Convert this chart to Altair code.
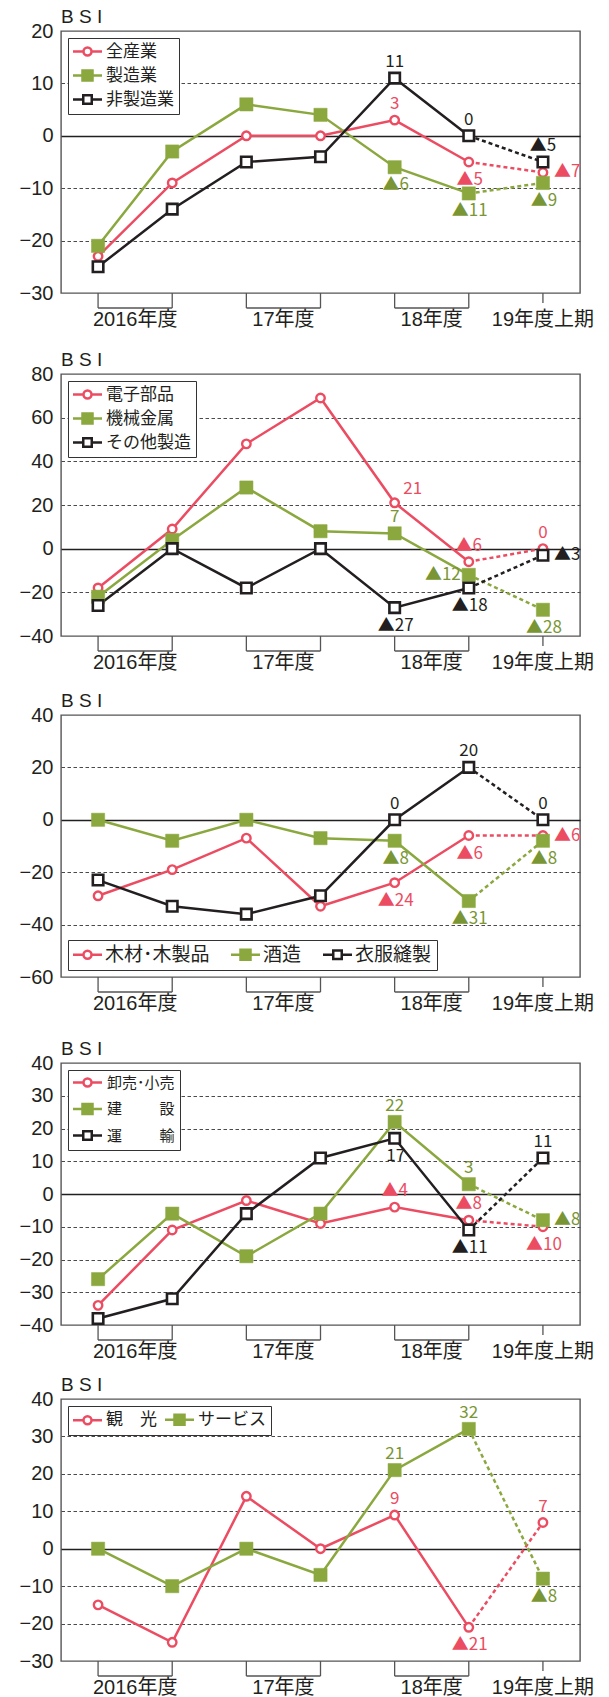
import altair as alt
import pandas as pd

FONT = "'Liberation Sans', 'Noto Sans CJK JP', sans-serif"
ANN_FONT = "'Noto Sans CJK JP', 'Liberation Sans', sans-serif"
PINK = "#ec4c62"
GREEN = "#8ba83f"
GREEN_TXT = "#7a9634"
BLACK = "#231f20"
FRAME = "#555555"

# half-year periods: 0=2016H1 ... 6=2019H1
FY_LABELS = ["2016年度", "17年度", "18年度", "19年度上期"]
FY_FIRST = [0, 2, 4, 6]
FY_LAST = [1, 3, 5, 6]

# ---- Panel 1
P1_NAMES = ["全産業", "製造業", "非製造業"]
P1_A = [-23, -9, 0, 0, 3, -5, -7]
P1_B = [-21, -3, 6, 4, -6, -11, -9]
P1_C = [-25, -14, -5, -4, 11, 0, -5]
P1_LAB_SERIES = [2, 0, 1, 2, 0, 1, 2, 0, 1]
P1_LAB_PERIOD = [4, 4, 4, 5, 5, 5, 6, 6, 6]
P1_LAB_TEXT = ["11", "3", "▲6", "0", "▲5", "▲11", "▲5", "▲7", "▲9"]
P1_LAB_SIDE = ["above", "above", "below", "above", "below", "below", "above", "right", "below"]

# ---- Panel 2
P2_NAMES = ["電子部品", "機械金属", "その他製造"]
P2_A = [-18, 9, 48, 69, 21, -6, 0]
P2_B = [-22, 4, 28, 8, 7, -12, -28]
P2_C = [-26, 0, -18, 0, -27, -18, -3]
P2_LAB_SERIES = [0, 1, 2, 0, 1, 2, 0, 2, 1]
P2_LAB_PERIOD = [4, 4, 4, 5, 5, 5, 6, 6, 6]
P2_LAB_TEXT = ["21", "7", "▲27", "▲6", "▲12", "▲18", "0", "▲3", "▲28"]
P2_LAB_SIDE = ["aboveright", "above", "below", "above", "left", "below", "above", "right", "below"]

# ---- Panel 3
P3_NAMES = ["木材･木製品", "酒造", "衣服縫製"]
P3_A = [-29, -19, -7, -33, -24, -6, -6]
P3_B = [0, -8, 0, -7, -8, -31, -8]
P3_C = [-23, -33, -36, -29, 0, 20, 0]
P3_LAB_SERIES = [2, 1, 0, 2, 0, 1, 2, 0, 1]
P3_LAB_PERIOD = [4, 4, 4, 5, 5, 5, 6, 6, 6]
P3_LAB_TEXT = ["0", "▲8", "▲24", "20", "▲6", "▲31", "0", "▲6", "▲8"]
P3_LAB_SIDE = ["above", "below", "below", "above", "below", "below", "above", "right", "below"]

# ---- Panel 4
P4_NAMES = ["卸売･小売", "建\u3000\u3000\u2002設", "運\u3000\u3000\u2002輸"]
P4_A = [-34, -11, -2, -9, -4, -8, -10]
P4_B = [-26, -6, -19, -6, 22, 3, -8]
P4_C = [-38, -32, -6, 11, 17, -11, 11]
P4_LAB_SERIES = [1, 2, 0, 1, 0, 2, 2, 1, 0]
P4_LAB_PERIOD = [4, 4, 4, 5, 5, 5, 6, 6, 6]
P4_LAB_TEXT = ["22", "17", "▲4", "3", "▲8", "▲11", "11", "▲8", "▲10"]
P4_LAB_SIDE = ["above", "below", "above", "above", "above", "below", "above", "right", "below"]

# ---- Panel 5
P5_NAMES = ["観\u3000光", "サービス"]
P5_A = [-15, -25, 14, 0, 9, -21, 7]
P5_B = [0, -10, 0, -7, 21, 32, -8]
P5_LAB_SERIES = [1, 0, 1, 0, 0, 1]
P5_LAB_PERIOD = [4, 4, 5, 5, 6, 6]
P5_LAB_TEXT = ["21", "9", "32", "▲21", "7", "▲8"]
P5_LAB_SIDE = ["above", "above", "above", "below", "above", "below"]

W, H = 519, 262

LINE_COLORS = [PINK, GREEN, BLACK]
TEXT_COLORS = [PINK, GREEN_TXT, BLACK]
POINT_STYLES = [
    dict(shape="circle", size=72, fill="white", stroke=PINK, strokeWidth=2.4),
    dict(shape="square", size=175, fill=GREEN, stroke=GREEN, strokeWidth=0.5, filled=True),
    dict(shape="square", size=110, fill="white", stroke=BLACK, strokeWidth=2.6),
]
LEG_PATHS = [
    "M-2.9,0H-0.8M0.8,0H2.9M0.8,0A0.8,0.8,0,1,1,-0.8,0A0.8,0.8,0,1,1,0.8,0Z",
    "M-2.9,0H-1M1,0H2.9M-1,-1H1V1H-1Z",
    "M-2.9,0H-0.85M0.85,0H2.9M-0.85,-0.85H0.85V0.85H-0.85Z",
]
LEG_FILLS = ["white", GREEN, "white"]
LEG_STROKES = [PINK, GREEN, BLACK]

PLACE = {
    "above": dict(dx=0, dy=-16, align="center"),
    "below": dict(dx=1, dy=18, align="center"),
    "right": dict(dx=11, dy=0, align="left"),
    "left": dict(dx=-8, dy=0, align="right"),
    "aboveright": dict(dx=18, dy=-14, align="center"),
}

xscale = alt.Scale(domain=[-0.5, 6.5], nice=False, zero=False)
INDEP = dict(color="independent", fill="independent", stroke="independent", shape="independent")


def panel(names, series, ylo, yhi, ystep, lab_s, lab_p, lab_t, lab_side,
          leg_orient, leg_dir, leg_size, leg_colpad, leg_rowpad):
    n = len(names)
    rows = []
    for name, vals in zip(names, series):
        for i, v in enumerate(vals):
            rows.append({"series": name, "idx": i, "value": v})
    df = pd.DataFrame(rows)

    ann = pd.DataFrame({
        "series": [names[s] for s in lab_s],
        "idx": lab_p,
        "value": [series[s][p] for s, p in zip(lab_s, lab_p)],
        "label": lab_t,
        "side": lab_side,
    })

    ticks = list(range(ylo, yhi + 1, ystep))
    yaxis = alt.Axis(
        values=ticks, title=None, grid=True, ticks=False, domain=False,
        labelFont=FONT, labelFontSize=20, labelColor=BLACK, labelPadding=8,
        labelFlush=False, labelOverlap=False, minExtent=48, maxExtent=48,
        labelExpr="(datum.value < 0 ? '−' : '') + abs(datum.value)",
        gridColor={"condition": {"test": "datum.value === 0", "value": BLACK}, "value": "#4a4a4a"},
        gridDash={"condition": {"test": "datum.value === 0", "value": []}, "value": [3.5, 2.5]},
        gridWidth={"condition": {"test": "datum.value === 0", "value": 1.4}, "value": 1.1},
        gridOpacity={"condition": {"test": f"datum.value === {ylo} || datum.value === {yhi}", "value": 0}, "value": 1},
    )
    yscale = alt.Scale(domain=[ylo, yhi], nice=False, zero=False)
    X = alt.X("idx:Q", scale=xscale, axis=None)
    Y = alt.Y("value:Q", scale=yscale, axis=yaxis)
    col = alt.Color("series:N", scale=alt.Scale(domain=names, range=LINE_COLORS[:n]), legend=None)

    base = alt.Chart(df)
    layers = []
    layers.append(base.transform_filter("datum.idx <= 5").mark_line(strokeWidth=2.5).encode(X, Y, col))
    layers.append(base.transform_filter("datum.idx >= 5").mark_line(strokeWidth=2.5, strokeDash=[4, 3]).encode(X, Y, col))
    for i, name in enumerate(names):
        layers.append(base.transform_filter(alt.datum.series == name)
                      .mark_point(opacity=1, **POINT_STYLES[i]).encode(X, Y))

    leg = alt.Legend(
        title=None, orient=leg_orient, direction=leg_dir, offset=7, padding=5,
        strokeColor="#333333", fillColor="white", cornerRadius=0,
        labelFont=FONT, labelFontSize=leg_size, labelColor=BLACK,
        symbolSize=100, symbolStrokeWidth=2.5,
        symbolOffset=14.5 - leg_size / 2, labelOffset=27 - leg_size,
        rowPadding=leg_rowpad, columnPadding=leg_colpad, labelLimit=400,
    )
    layers.append(base.transform_filter("false").mark_point(opacity=1, strokeWidth=2.5).encode(
        shape=alt.Shape("series:N", scale=alt.Scale(domain=names, range=LEG_PATHS[:n]), legend=leg),
        fill=alt.Fill("series:N", scale=alt.Scale(domain=names, range=LEG_FILLS[:n]), legend=leg),
        stroke=alt.Stroke("series:N", scale=alt.Scale(domain=names, range=LEG_STROKES[:n]), legend=leg),
    ))

    tcol = alt.Color("series:N", scale=alt.Scale(domain=names, range=TEXT_COLORS[:n]), legend=None)
    for side, spec in PLACE.items():
        if side not in lab_side:
            continue
        layers.append(alt.Chart(ann).transform_filter(alt.datum.side == side)
                      .mark_text(font=ANN_FONT, fontSize=17, baseline="middle", **spec)
                      .encode(X, Y, tcol, text="label:N"))

    fy = pd.DataFrame({"label": FY_LABELS, "first": FY_FIRST, "last": FY_LAST})
    multi = fy[fy["first"] < fy["last"]]
    single = fy[fy["first"] == fy["last"]]
    edges = pd.DataFrame({"pos": list(multi["first"]) + list(multi["last"])})
    rule_style = dict(color="#555555", strokeWidth=1.3)
    layers.append(alt.Chart(edges).mark_rule(**rule_style).encode(
        x=alt.X("pos:Q", scale=xscale, axis=None), y=alt.value(H), y2=alt.value(H + 15)))
    layers.append(alt.Chart(single).mark_rule(**rule_style).encode(
        x=alt.X("first:Q", scale=xscale, axis=None), y=alt.value(H), y2=alt.value(H + 10)))
    layers.append(alt.Chart(multi).mark_rule(**rule_style).encode(
        x=alt.X("first:Q", scale=xscale, axis=None), x2="last:Q", y=alt.value(H + 15)))
    layers.append(alt.Chart(fy).transform_calculate(mid="(datum.first + datum.last) / 2")
                  .mark_text(font=FONT, fontSize=20, baseline="middle", color=BLACK)
                  .encode(x=alt.X("mid:Q", scale=xscale, axis=None), y=alt.value(H + 27), text="label:N"))

    return alt.layer(*layers).resolve_scale(color="independent").properties(
        width=W, height=H,
        title=alt.TitleParams(text="B S I", anchor="start", frame="group", fontSize=19,
                              font=FONT, fontWeight="normal", color=BLACK, offset=-6),
    )


p1 = panel(P1_NAMES, [P1_A, P1_B, P1_C], -30, 20, 10, P1_LAB_SERIES, P1_LAB_PERIOD, P1_LAB_TEXT, P1_LAB_SIDE,
           "top-left", "vertical", 17, 10, 4)
p2 = panel(P2_NAMES, [P2_A, P2_B, P2_C], -40, 80, 20, P2_LAB_SERIES, P2_LAB_PERIOD, P2_LAB_TEXT, P2_LAB_SIDE,
           "top-left", "vertical", 17, 10, 4)
p3 = panel(P3_NAMES, [P3_A, P3_B, P3_C], -60, 40, 20, P3_LAB_SERIES, P3_LAB_PERIOD, P3_LAB_TEXT, P3_LAB_SIDE,
           "bottom-left", "horizontal", 19, 16, 2)
p4 = panel(P4_NAMES, [P4_A, P4_B, P4_C], -40, 40, 10, P4_LAB_SERIES, P4_LAB_PERIOD, P4_LAB_TEXT, P4_LAB_SIDE,
           "top-left", "vertical", 15, 10, 6.5)
p5 = panel(P5_NAMES, [P5_A, P5_B], -30, 40, 10, P5_LAB_SERIES, P5_LAB_PERIOD, P5_LAB_TEXT, P5_LAB_SIDE,
           "top-left", "horizontal", 17, 3, 2)

c45 = alt.vconcat(p4, p5, spacing=12).resolve_scale(**INDEP)
c345 = alt.vconcat(p3, c45, spacing=24).resolve_scale(**INDEP)
c2345 = alt.vconcat(p2, c345, spacing=17).resolve_scale(**INDEP)
chart = alt.vconcat(p1, c2345, spacing=19).resolve_scale(**INDEP).properties(
    padding={"left": 12, "top": 7, "right": 0, "bottom": 0},
    background="white",
).configure_view(stroke=FRAME, strokeWidth=1.4)

chart.save("out.html", embed_options={"renderer": "svg", "actions": False})
